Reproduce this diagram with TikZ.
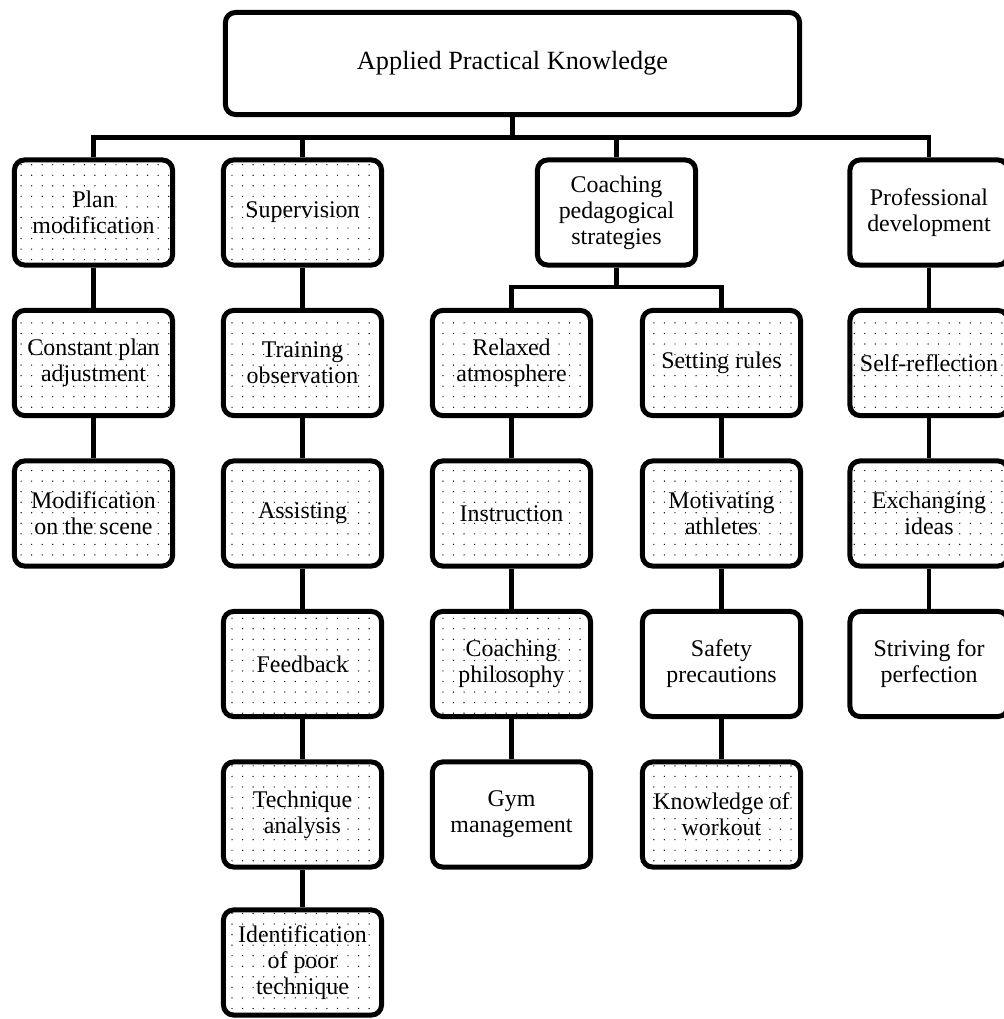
\documentclass[tikz,border=0pt]{standalone}
\usepackage{fontspec}
\setmainfont{Liberation Serif}
\usetikzlibrary{patterns.meta}

\begin{document}
\begin{tikzpicture}[x=0.025cm,y=-0.025cm,
    box/.style={draw,rounded corners=0.25cm,line width=0.125cm,
      minimum width=3.95cm,minimum height=2.625cm,align=center,
      inner sep=1pt,font=\fontsize{17}{18.6}\selectfont},
    dotbox/.style={box,pattern={Dots[distance=7.5pt,radius=0.5pt]}},
    link/.style={line width=0.12cm}]
        \fill[white] (0,0) rectangle (1004,1019);
        \useasboundingbox (0,0) rectangle (1004,1019);
        % top
        \node[box,minimum width=14.35cm,minimum height=2.55cm,font=\fontsize{18.7}{20}\selectfont] (apk) at (512.5,63.5){Applied Practical Knowledge};
        % first row
        \node[dotbox] (plan) at (93.5,212.5){Plan\\modification};
        \node[dotbox] (sup) at (302.5,212.5){Supervision};
        \node[box] (cps) at (616.5,212.5){Coaching\\pedagogical\\strategies};
        \node[box] (prof) at (929,212.5){Professional\\development};
        % second row
        \node[dotbox] (cpa) at (93.5,363){Constant plan\\adjustment};
        \node[dotbox] (tob) at (302.5,363){Training\\observation};
        \node[dotbox] (relax) at (511.5,363){Relaxed\\atmosphere};
        \node[dotbox] (rules) at (721.5,363){Setting rules};
        \node[dotbox] (selfr) at (929,363){Self-reflection};
        % third row
        \node[dotbox] (mos) at (93.5,513.5){Modification\\on the scene};
        \node[dotbox] (assist) at (302.5,513.5){Assisting};
        \node[dotbox] (instr) at (511.5,513.5){Instruction};
        \node[dotbox] (motiv) at (721.5,513.5){Motivating\\athletes};
        \node[dotbox] (exch) at (929,513.5){Exchanging\\ideas};
        % fourth row
        \node[dotbox] (feedb) at (302.5,664){Feedback};
        \node[dotbox] (phil) at (511.5,664){Coaching\\philosophy};
        \node[box] (safety) at (721.5,664){Safety\\precautions};
        \node[box] (striv) at (929,664){Striving for\\perfection};
        % fifth and sixth row
        \node[dotbox] (tech) at (302.5,814.5){Technique\\analysis};
        \node[box] (gym) at (511.5,814.5){Gym\\management};
        \node[dotbox] (know) at (721.5,814.5){Knowledge of\\workout};
        \node[dotbox] (ident) at (302.5,962.5){Identification\\of poor\\technique};
        % buses
        \coordinate (busA) at (512.5,137.5);
        \coordinate (busB) at (616.5,287);
        \draw[link] (apk.south)--(busA);
        \foreach \n in {plan,sup,cps,prof}
          \draw[link] (busA)-|(\n.north);
        \draw[link] (cps.south)--(busB);
        \foreach \n in {relax,rules}
          \draw[link] (busB)-|(\n.north);
        % columns
        \foreach \a/\b in {plan/cpa,cpa/mos,sup/tob,tob/assist,assist/feedb,feedb/tech,tech/ident,
            relax/instr,instr/phil,phil/gym,rules/motiv,motiv/safety,safety/know,
            prof/selfr,selfr/exch,exch/striv}
          \draw[link] (\a.south)--(\b.north);
      \end{tikzpicture}
\end{document}
